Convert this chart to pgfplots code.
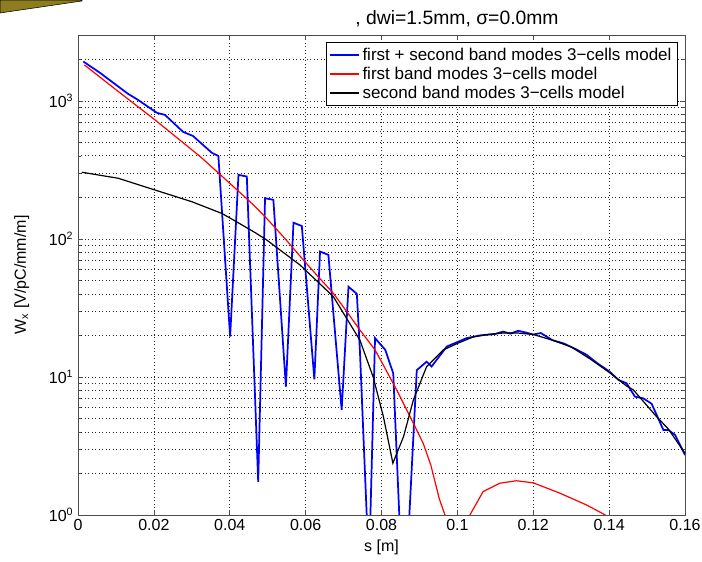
\documentclass[border=0pt]{standalone}
\usepackage{fontspec}
\setmainfont{Liberation Sans}
\usepackage{pgfplots}
\pgfplotsset{compat=1.18}

\definecolor{olivebar}{RGB}{140,125,30}

\pgfplotstableread{
s W
0.0014 1927
0.0058 1596
0.0132 1124
0.0158 1017
0.0208 819
0.0229 792
0.0277 596
0.0303 557
0.0353 420
0.0370 399
0.0401 19.6
0.0423 291
0.0445 283
0.0475 1.74
0.0493 197
0.0515 192
0.0548 8.5
0.0568 131
0.0590 124
0.0623 9.6
0.0638 81
0.0660 76.6
0.0695 5.77
0.0713 45
0.0735 40
0.0743 15.7
0.0767 0.4
0.0783 19.1
0.0810 15.7
0.0831 10.6
0.0853 0.4
0.0866 0.4
0.0893 11.2
0.0919 12.9
0.0932 11.9
0.0972 16.6
0.1024 19.1
0.1060 20.0
0.1100 20.5
0.1120 21.3
0.1140 20.6
0.1160 21.6
0.1180 21.0
0.1200 20.3
0.1220 20.8
0.1250 18.5
0.1280 17.5
0.1310 16.0
0.1340 14.5
0.1370 12.5
0.1400 11.0
0.1425 9.5
0.1446 9.0
0.1468 7.2
0.1490 7.0
0.1512 6.4
0.1543 4.13
0.1556 4.13
0.1574 3.8
0.1600 2.72
}\tblsum

\pgfplotstableread{
s W
0.0017 1820
0.0100 1205
0.0203 728
0.0270 516
0.0322 395
0.0390 268
0.0458 181
0.0493 145
0.0545 101
0.0594 70.4
0.0635 52.5
0.0673 40.4
0.0708 29.8
0.0743 21.9
0.0783 15.7
0.0812 11.2
0.0840 8.05
0.0884 4.62
0.0910 3.3
0.0930 2.3
0.0952 1.32
0.0970 0.95
0.0990 0.2
0.1015 0.2
0.1033 1.0
0.1068 1.48
0.1112 1.70
0.1156 1.77
0.1200 1.71
0.1270 1.44
0.1341 1.18
0.1390 1.0
0.1420 0.2
}\tblfirst

\pgfplotstableread{
s W
0.0010 304
0.0106 275
0.0203 226
0.0300 186
0.0379 153
0.0410 137
0.0467 111
0.0497 98.4
0.0585 64.8
0.0673 38.2
0.0743 18.5
0.0778 10.0
0.0805 5.16
0.0830 2.37
0.0858 3.69
0.0884 6.81
0.0919 11.9
0.0963 15.7
0.1000 17.5
0.1042 19.5
0.1080 20.3
0.1120 20.8
0.1160 20.8
0.1200 20.3
0.1250 18.5
0.1300 16.5
0.1350 13.5
0.1400 10.8
0.1446 8.6
0.1464 8.05
0.1525 5.16
0.1556 4.2
0.1600 2.8
}\tblsecond

\begin{document}
\begin{tikzpicture}
\begin{axis}[
    scale only axis,
    width=455.25pt,
    height=360pt,
    ymode=log,
    log basis y=10,
    xmin=0, xmax=0.16,
    ymin=1, ymax=3000,
    xtick={0,0.02,...,0.16},
    ytick={1,10,100,1000},
    minor ytick={2,3,4,5,6,7,8,9,20,30,40,50,60,70,80,90,200,300,400,500,600,700,800,900,2000,3000},
    scaled x ticks=false,
    xticklabel style={/pgf/number format/fixed, /pgf/number format/precision=2,
        /pgf/number format/assume math mode=true},
    yticklabel={10\textsuperscript{\pgfmathparse{int(round(\tick))}\pgfmathresult}},
    tick label style={font=\fontsize{12}{14}\selectfont},
    label style={font=\fontsize{12}{14}\selectfont},
    xlabel={s [m]},
    ylabel={W\textsubscript{x} [V/pC/mm/m]},
    ylabel style={yshift=8pt},
    axis line style={black!70},
    major tick length=3.75pt,
    minor tick length=2.5pt,
    every tick/.style={black!70},
    xmajorgrids, ymajorgrids, yminorgrids,
    grid style={black!85, line width=0.5pt, dash pattern=on 0.6pt off 2pt},
    legend style={at={(0.987,0.985)}, anchor=north east, draw=black,
        font=\fontsize{12.75}{14.5}\selectfont, inner sep=2pt,
        row sep=-0.5pt},
    legend cell align=left,
    legend image code/.code={\draw[#1, line width=0.9pt] (0pt,0pt) -- (22pt,0pt);},
    clip=true,
]
\addplot[color=blue, line width=1.3pt] table[x=s, y=W] {\tblsum};
\addlegendentry{first + second band modes 3−cells model}
\addplot[color=red, line width=0.9pt] table[x=s, y=W] {\tblfirst};
\addlegendentry{first band modes 3−cells model}
\addplot[color=black, line width=0.9pt] table[x=s, y=W] {\tblsecond};
\addlegendentry{second band modes 3−cells model}
\end{axis}
\node[anchor=base east, font=\fontsize{14.5}{16}\selectfont]
    at ([xshift=364pt, yshift=8pt]current axis.north west) {, dwi=1.5mm, σ=0.0mm};
\fill[olivebar, draw=black, line width=0.4pt]
    ([xshift=-58.5pt, yshift=26.25pt]current axis.north west) --
    ([xshift=3pt, yshift=26.25pt]current axis.north west) --
    ([xshift=3pt, yshift=25.5pt]current axis.north west) --
    ([xshift=-58.5pt, yshift=16.5pt]current axis.north west) -- cycle;
\pgfresetboundingbox
\path[use as bounding box]
    ([xshift=-58.5pt, yshift=-35.25pt]current axis.south west) rectangle
    ([xshift=12.75pt, yshift=26.25pt]current axis.north east);
\end{tikzpicture}
\end{document}
